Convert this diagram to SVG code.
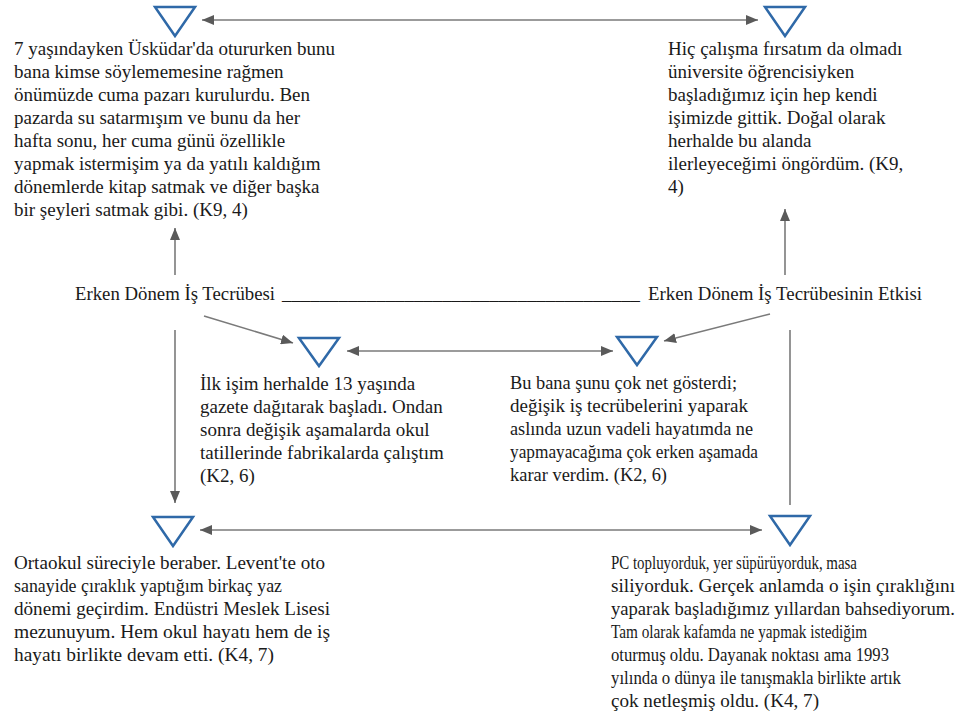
<svg xmlns="http://www.w3.org/2000/svg" width="959" height="713" viewBox="0 0 959 713">
<defs>
<marker id="ah" viewBox="0 0 12 10" refX="12" refY="5" markerWidth="12" markerHeight="10" markerUnits="userSpaceOnUse" orient="auto-start-reverse">
<path d="M0,0 L12,5 L0,10 Z" fill="#5a5a5a"/>
</marker>
</defs>
<style>
.tri{fill:#fff;stroke:#2f69a8;stroke-width:2.5;stroke-linejoin:miter}
.con{stroke:#7a7a7a;stroke-width:1.6;fill:none}
</style>
<rect width="959" height="713" fill="#fff"/>
<g id="connectors">
<line class="con" x1="202" y1="20" x2="758" y2="20" marker-start="url(#ah)" marker-end="url(#ah)"/>
<line class="con" x1="175" y1="275" x2="175" y2="228" marker-end="url(#ah)"/>
<line class="con" x1="785" y1="275" x2="785" y2="209" marker-end="url(#ah)"/>
<line class="con" x1="204" y1="316" x2="293" y2="343" marker-end="url(#ah)"/>
<line class="con" x1="770" y1="314" x2="664" y2="341" marker-end="url(#ah)"/>
<line class="con" x1="347" y1="351" x2="613" y2="351" marker-start="url(#ah)" marker-end="url(#ah)"/>
<line class="con" x1="175" y1="330" x2="175" y2="503" marker-end="url(#ah)"/>
<line class="con" x1="790" y1="330" x2="790" y2="505"/>
<line class="con" x1="200" y1="530" x2="762" y2="530" marker-start="url(#ah)" marker-end="url(#ah)"/>
</g>
<g font-family="Liberation Serif, Times New Roman, serif" font-size="19" fill="#1a1a1a">
<g id="node-top-left">
<polygon class="tri" points="155,7 195,7 175,36"/>
<text x="14" y="55">7 yaşındayken Üsküdar'da otururken bunu</text>
<text x="14" y="78">bana kimse söylememesine rağmen</text>
<text x="14" y="101">önümüzde cuma pazarı kurulurdu. Ben</text>
<text x="14" y="124">pazarda su satarmışım ve bunu da her</text>
<text x="14" y="147">hafta sonu, her cuma günü özellikle</text>
<text x="14" y="170">yapmak istermişim ya da yatılı kaldığım</text>
<text x="14" y="193">dönemlerde kitap satmak ve diğer başka</text>
<text x="14" y="216">bir şeyleri satmak gibi. (K9, 4)</text>
</g>
<g id="node-top-right">
<polygon class="tri" points="765,7 805,7 785,36"/>
<text x="668" y="55">Hiç çalışma fırsatım da olmadı</text>
<text x="668" y="78">üniversite öğrencisiyken</text>
<text x="668" y="101">başladığımız için hep kendi</text>
<text x="668" y="124">işimizde gittik. Doğal olarak</text>
<text x="668" y="147">herhalde bu alanda</text>
<text x="668" y="170">ilerleyeceğimi öngördüm. (K9,</text>
<text x="668" y="193">4)</text>
</g>
<g id="label-left">
<text x="75" y="300" textLength="200" lengthAdjust="spacingAndGlyphs">Erken Dönem İş Tecrübesi</text>
</g>
<g id="label-line">
<text x="282" y="300" textLength="358" lengthAdjust="spacingAndGlyphs">______________________________________</text>
</g>
<g id="label-right">
<text x="648" y="300" textLength="274" lengthAdjust="spacingAndGlyphs">Erken Dönem İş Tecrübesinin Etkisi</text>
</g>
<g id="node-mid-left">
<polygon class="tri" points="299,338 339,338 319,366"/>
<text x="200" y="390">İlk işim herhalde 13 yaşında</text>
<text x="200" y="413">gazete dağıtarak başladı. Ondan</text>
<text x="200" y="436">sonra değişik aşamalarda okul</text>
<text x="200" y="459">tatillerinde fabrikalarda çalıştım</text>
<text x="200" y="482">(K2, 6)</text>
</g>
<g id="node-mid-right">
<polygon class="tri" points="617,337 657,337 637,365"/>
<text x="510" y="389" textLength="227" lengthAdjust="spacingAndGlyphs">Bu bana şunu çok net gösterdi;</text>
<text x="510" y="412" textLength="238" lengthAdjust="spacingAndGlyphs">değişik iş tecrübelerini yaparak</text>
<text x="510" y="435" textLength="243" lengthAdjust="spacingAndGlyphs">aslında uzun vadeli hayatımda ne</text>
<text x="510" y="458" textLength="248" lengthAdjust="spacingAndGlyphs">yapmayacağıma çok erken aşamada</text>
<text x="510" y="481" textLength="157" lengthAdjust="spacingAndGlyphs">karar verdim. (K2, 6)</text>
</g>
<g id="node-bottom-left">
<polygon class="tri" points="153,517 193,517 173,546"/>
<text x="14" y="569" textLength="311" lengthAdjust="spacingAndGlyphs">Ortaokul süreciyle beraber. Levent'te oto</text>
<text x="14" y="592" textLength="268" lengthAdjust="spacingAndGlyphs">sanayide çıraklık yaptığım birkaç yaz</text>
<text x="14" y="615" textLength="316" lengthAdjust="spacingAndGlyphs">dönemi geçirdim. Endüstri Meslek Lisesi</text>
<text x="14" y="638" textLength="316" lengthAdjust="spacingAndGlyphs">mezunuyum. Hem okul hayatı hem de iş</text>
<text x="14" y="661" textLength="260" lengthAdjust="spacingAndGlyphs">hayatı birlikte devam etti. (K4, 7)</text>
</g>
<g id="node-bottom-right">
<polygon class="tri" points="770,516 810,516 790,545"/>
<text x="611" y="569" textLength="246" lengthAdjust="spacingAndGlyphs">PC topluyorduk, yer süpürüyorduk, masa</text>
<text x="611" y="592" textLength="344" lengthAdjust="spacingAndGlyphs">siliyorduk. Gerçek anlamda o işin çıraklığını</text>
<text x="611" y="615" font-size="18.6" textLength="344" lengthAdjust="spacingAndGlyphs">yaparak başladığımız yıllardan bahsediyorum.</text>
<text x="611" y="638" textLength="256" lengthAdjust="spacingAndGlyphs">Tam olarak kafamda ne yapmak istediğim</text>
<text x="611" y="661" textLength="278" lengthAdjust="spacingAndGlyphs">oturmuş oldu. Dayanak noktası ama 1993</text>
<text x="611" y="684" textLength="290" lengthAdjust="spacingAndGlyphs">yılında o dünya ile tanışmakla birlikte artık</text>
<text x="611" y="707" textLength="208" lengthAdjust="spacingAndGlyphs">çok netleşmiş oldu. (K4, 7)</text>
</g>
</g>
</svg>
